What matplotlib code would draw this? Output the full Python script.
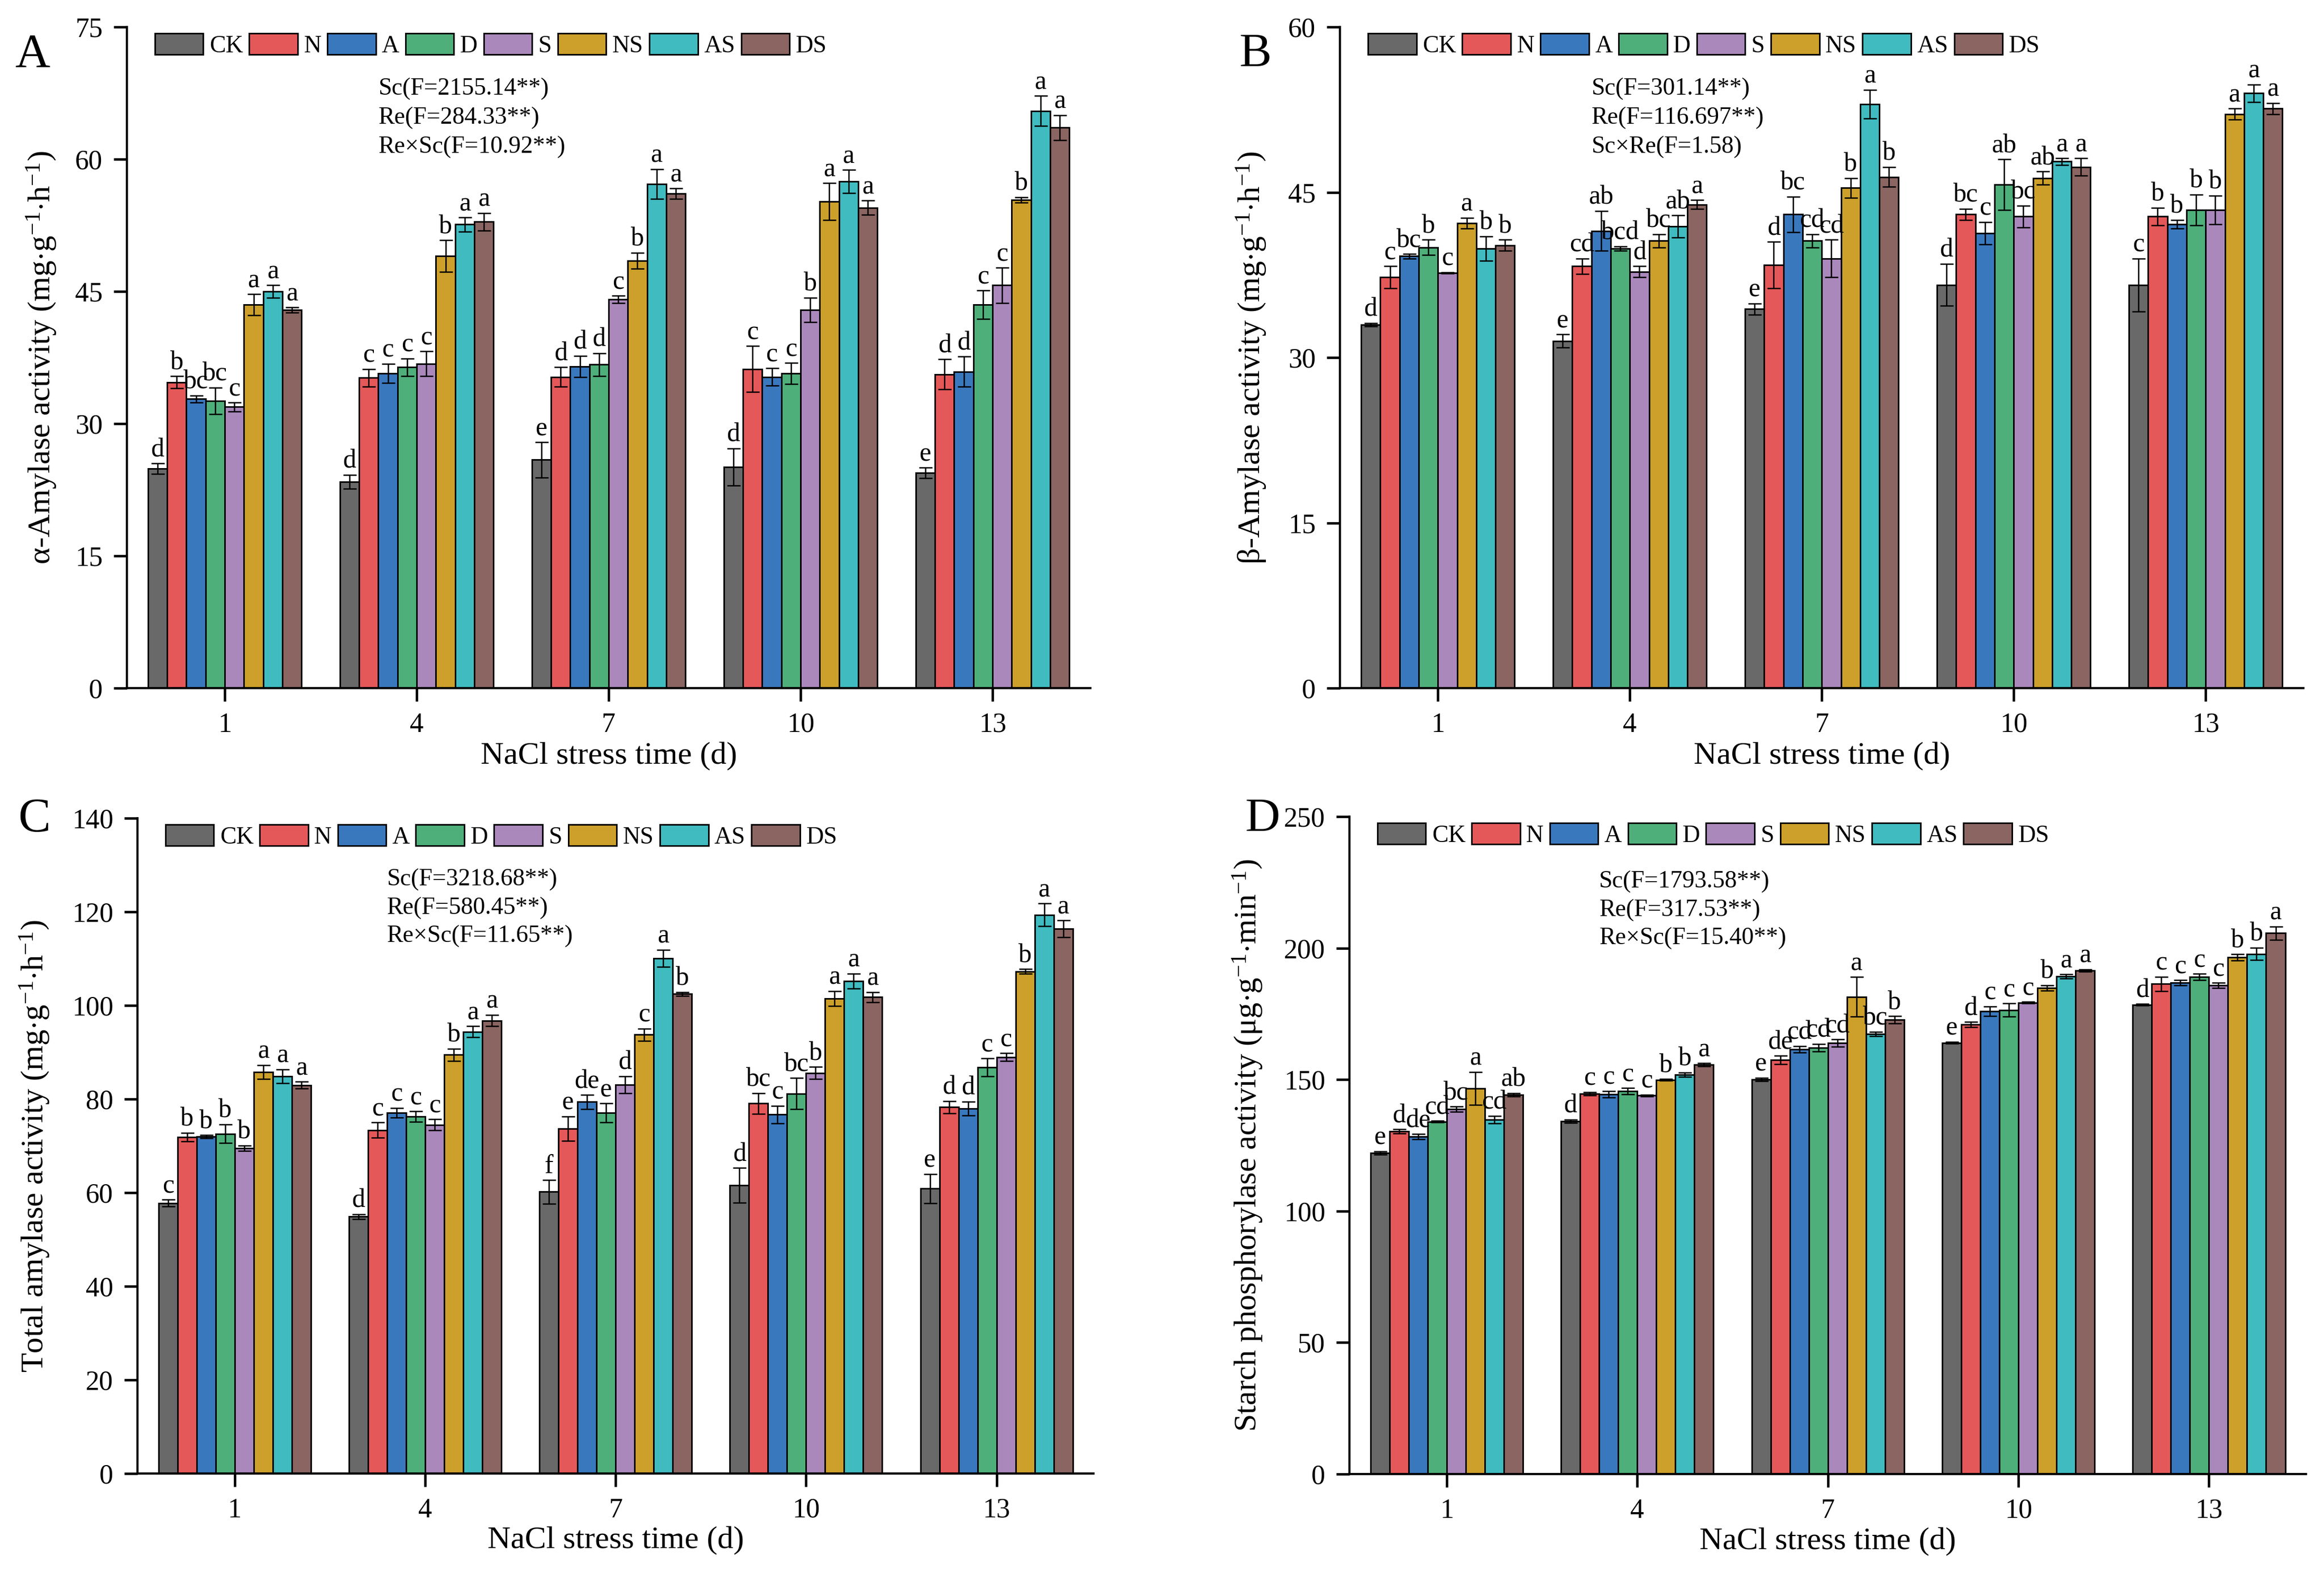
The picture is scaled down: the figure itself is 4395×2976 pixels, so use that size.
import numpy as np
import matplotlib
matplotlib.use("Agg")
import matplotlib.pyplot as plt

plt.rcParams['font.family'] = ['Liberation Serif', 'DejaVu Serif']
plt.rcParams['mathtext.fontset'] = 'custom'
plt.rcParams['mathtext.rm'] = 'Liberation Serif'
plt.rcParams['mathtext.it'] = 'Liberation Serif:italic'

days = ['1', '4', '7', '10', '13']
treatments = ['CK', 'N', 'A', 'D', 'S', 'NS', 'AS', 'DS']
colors = ['#696969', '#E55859', '#3A78BE', '#4FAF7A', '#AA88BC', '#CCA02A', '#40BBC0', '#8B6562']

# panel A: alpha-amylase
alpha_mean = [[24.9, 23.4, 25.9, 25.1, 24.4],
              [34.7, 35.2, 35.3, 36.2, 35.6],
              [32.8, 35.7, 36.5, 35.3, 35.9],
              [32.6, 36.4, 36.7, 35.7, 43.5],
              [31.9, 36.8, 44.1, 42.9, 45.7],
              [43.5, 49.0, 48.5, 55.2, 55.4],
              [45.0, 52.6, 57.2, 57.5, 65.5],
              [42.9, 52.9, 56.1, 54.5, 63.6]]
alpha_err = [[0.6, 0.8, 2.0, 2.1, 0.6],
             [0.7, 1.0, 1.1, 2.6, 1.7],
             [0.4, 1.1, 1.2, 1.0, 1.7],
             [1.5, 1.0, 1.3, 1.2, 1.6],
             [0.5, 1.4, 0.4, 1.4, 2.0],
             [1.2, 1.8, 0.9, 2.1, 0.3],
             [0.7, 0.8, 1.7, 1.3, 1.7],
             [0.3, 1.0, 0.6, 0.8, 1.4]]
alpha_sig = [['d', 'd', 'e', 'd', 'e'],
             ['b', 'c', 'd', 'c', 'd'],
             ['bc', 'c', 'd', 'c', 'd'],
             ['bc', 'c', 'd', 'c', 'c'],
             ['c', 'c', 'c', 'b', 'c'],
             ['a', 'b', 'b', 'a', 'b'],
             ['a', 'a', 'a', 'a', 'a'],
             ['a', 'a', 'a', 'a', 'a']]

# panel B: beta-amylase
beta_mean = [[33.0, 31.5, 34.4, 36.6, 36.6],
             [37.3, 38.3, 38.4, 43.0, 42.8],
             [39.2, 41.5, 43.0, 41.3, 42.1],
             [40.0, 39.9, 40.6, 45.7, 43.4],
             [37.7, 37.8, 39.0, 42.8, 43.4],
             [42.2, 40.6, 45.4, 46.3, 52.1],
             [39.9, 41.9, 53.0, 47.8, 54.0],
             [40.2, 43.9, 46.4, 47.3, 52.6]]
beta_err = [[0.15, 0.6, 0.5, 1.9, 2.4],
            [1.0, 0.7, 2.1, 0.5, 0.8],
            [0.2, 1.8, 1.6, 1.0, 0.4],
            [0.7, 0.2, 0.6, 2.3, 1.4],
            [0.05, 0.5, 1.7, 1.0, 1.3],
            [0.5, 0.6, 0.9, 0.6, 0.5],
            [1.1, 1.0, 1.3, 0.3, 0.8],
            [0.5, 0.4, 0.9, 0.8, 0.5]]
beta_sig = [['d', 'e', 'e', 'd', 'c'],
            ['c', 'cd', 'd', 'bc', 'b'],
            ['bc', 'ab', 'bc', 'c', 'b'],
            ['b', 'bcd', 'cd', 'ab', 'b'],
            ['c', 'd', 'cd', 'bc', 'b'],
            ['a', 'bc', 'b', 'ab', 'a'],
            ['b', 'ab', 'a', 'a', 'a'],
            ['b', 'a', 'b', 'a', 'a']]

# panel C: total amylase
total_mean = [[57.8, 54.9, 60.2, 61.6, 60.9],
              [71.9, 73.4, 73.7, 79.1, 78.3],
              [72.0, 77.1, 79.4, 76.7, 78.0],
              [72.6, 76.3, 77.1, 81.2, 86.8],
              [69.5, 74.5, 83.1, 85.6, 89.0],
              [85.8, 89.5, 93.8, 101.5, 107.3],
              [84.9, 94.4, 110.1, 105.2, 119.4],
              [83.0, 96.8, 102.5, 101.8, 116.4]]
total_err = [[0.7, 0.5, 2.5, 3.7, 3.1],
             [0.9, 1.6, 2.6, 2.2, 1.3],
             [0.3, 1.0, 1.5, 1.9, 1.5],
             [2.0, 1.1, 2.0, 3.3, 1.9],
             [0.6, 1.2, 1.8, 1.3, 0.8],
             [1.5, 1.3, 1.3, 1.6, 0.5],
             [1.5, 1.2, 1.8, 1.6, 2.4],
             [0.7, 1.2, 0.4, 1.1, 1.8]]
total_sig = [['c', 'd', 'f', 'd', 'e'],
             ['b', 'c', 'e', 'bc', 'd'],
             ['b', 'c', 'de', 'c', 'd'],
             ['b', 'c', 'e', 'bc', 'c'],
             ['b', 'c', 'd', 'b', 'c'],
             ['a', 'b', 'c', 'a', 'b'],
             ['a', 'a', 'a', 'a', 'a'],
             ['a', 'a', 'b', 'a', 'a']]

# panel D: starch phosphorylase
sp_mean = [[122.1, 134.2, 150.1, 164.0, 178.4],
           [130.3, 144.6, 157.4, 170.9, 186.4],
           [128.3, 144.4, 161.5, 176.0, 186.8],
           [134.0, 145.6, 162.1, 176.4, 189.0],
           [138.7, 144.0, 163.9, 179.2, 185.8],
           [146.6, 149.9, 181.5, 184.9, 196.4],
           [134.8, 151.9, 167.4, 189.2, 197.8],
           [144.2, 155.6, 172.7, 191.5, 205.7]]
sp_err = [[0.6, 0.6, 0.6, 0.3, 0.3],
          [0.8, 0.6, 1.6, 1.0, 2.7],
          [1.0, 1.2, 1.2, 1.8, 1.0],
          [0.3, 1.2, 1.4, 2.5, 1.2],
          [1.0, 0.3, 1.4, 0.3, 1.0],
          [6.3, 0.3, 7.5, 1.0, 1.2],
          [1.4, 0.8, 0.8, 0.8, 2.4],
          [0.6, 0.6, 1.4, 0.4, 2.5]]
sp_sig = [['e', 'd', 'e', 'e', 'd'],
          ['d', 'c', 'de', 'd', 'c'],
          ['de', 'c', 'cd', 'c', 'c'],
          ['cd', 'c', 'cd', 'c', 'c'],
          ['bc', 'c', 'cd', 'c', 'c'],
          ['a', 'b', 'a', 'b', 'b'],
          ['cd', 'b', 'bc', 'a', 'b'],
          ['ab', 'a', 'b', 'a', 'a']]

panels = [
    dict(letter='A', pos=[0.0546, 0.5628, 0.4146, 0.4200], lpos=(0.0139, 0.9647),
         mean=alpha_mean, err=alpha_err, sig=alpha_sig, ymax=75, ystep=15,
         ylab=r'α-Amylase activity (mg$\cdot$g$^{-1}$$\cdot$h$^{-1}$)', ylx=0.018,
         stats=['Sc(F=2155.14**)', 'Re(F=284.33**)', 'Re×Sc(F=10.92**)'],
         sty=[0.907, 0.863, 0.819]),
    dict(letter='B', pos=[0.5766, 0.5628, 0.4146, 0.4200], lpos=(0.5402, 0.9650),
         mean=beta_mean, err=beta_err, sig=beta_sig, ymax=60, ystep=15,
         ylab=r'β-Amylase activity (mg$\cdot$g$^{-1}$$\cdot$h$^{-1}$)', ylx=0.5386,
         stats=['Sc(F=301.14**)', 'Re(F=116.697**)', 'Sc×Re(F=1.58)'],
         sty=[0.907, 0.863, 0.819]),
    dict(letter='C', pos=[0.0592, 0.0638, 0.4114, 0.4163], lpos=(0.0148, 0.4792),
         mean=total_mean, err=total_err, sig=total_sig, ymax=140, ystep=20,
         ylab=r'Total amylase activity (mg$\cdot$g$^{-1}$$\cdot$h$^{-1}$)', ylx=0.0150,
         stats=['Sc(F=3218.68**)', 'Re(F=580.45**)', 'Re×Sc(F=11.65**)'],
         sty=[0.907, 0.863, 0.820]),
    dict(letter='D', pos=[0.5807, 0.0635, 0.4116, 0.4177], lpos=(0.5433, 0.4792),
         mean=sp_mean, err=sp_err, sig=sp_sig, ymax=250, ystep=50,
         ylab=r'Starch phosphorylase activity (μg$\cdot$g$^{-1}$$\cdot$min$^{-1}$)', ylx=0.5370,
         stats=['Sc(F=1793.58**)', 'Re(F=317.53**)', 'Re×Sc(F=15.40**)'],
         sty=[0.901, 0.858, 0.815]),
]

fig = plt.figure(figsize=(4395 / 300, 2976 / 300), dpi=300)

x = np.arange(len(days))
w = 0.1

for p in panels:
    ax = fig.add_axes(p['pos'])
    mean = np.array(p['mean'])
    err = np.array(p['err'])
    bars = []
    for i, t in enumerate(treatments):
        xi = x + (i - 3.5) * w
        b = ax.bar(xi, mean[i], width=w, color=colors[i], edgecolor='black',
                   linewidth=0.7, label=t, zorder=2)
        bars.append(b)
        ax.errorbar(xi, mean[i], yerr=err[i], fmt='none', ecolor='black',
                    elinewidth=0.6, capsize=3, capthick=0.6, zorder=3)
        for j in range(len(days)):
            ax.annotate(p['sig'][i][j], (xi[j], mean[i][j] + err[i][j]),
                        xytext=(0, 0.5), textcoords='offset points',
                        ha='center', va='bottom', fontsize=12)

    ax.set_xlim(-0.51, 4.51)
    ax.set_ylim(0, p['ymax'])
    ax.set_xticks(x)
    ax.set_xticklabels(days)
    ax.set_yticks(np.arange(0, p['ymax'] + 1, p['ystep']))
    ax.spines['top'].set_visible(False)
    ax.spines['right'].set_visible(False)
    ax.spines['left'].set_linewidth(1.0)
    ax.spines['bottom'].set_linewidth(1.0)
    ax.tick_params(axis='both', direction='out', length=6, width=1.1,
                   labelsize=12.5, pad=5)

    ax.text(0.5, -0.103, 'NaCl stress time (d)', transform=ax.transAxes,
            ha='center', va='center', fontsize=14.5)
    cy = p['pos'][1] + p['pos'][3] / 2
    fig.text(p['ylx'], cy, p['ylab'], rotation=90, ha='center', va='center',
             fontsize=14.5)
    fig.text(p['lpos'][0], p['lpos'][1], p['letter'], ha='center', va='center',
             fontsize=22)

    for s, yy in zip(p['stats'], p['sty']):
        ax.text(0.261, yy, s, transform=ax.transAxes, ha='left', va='center',
                fontsize=11)

    ax.legend(handles=bars, loc='center left', bbox_to_anchor=(0.029, 0.972),
              ncol=8, frameon=False, fontsize=11, borderpad=0, borderaxespad=0,
              handlelength=2.0, handleheight=0.95, handletextpad=0.25,
              columnspacing=0.25)

fig.savefig('out.png', dpi=300)
